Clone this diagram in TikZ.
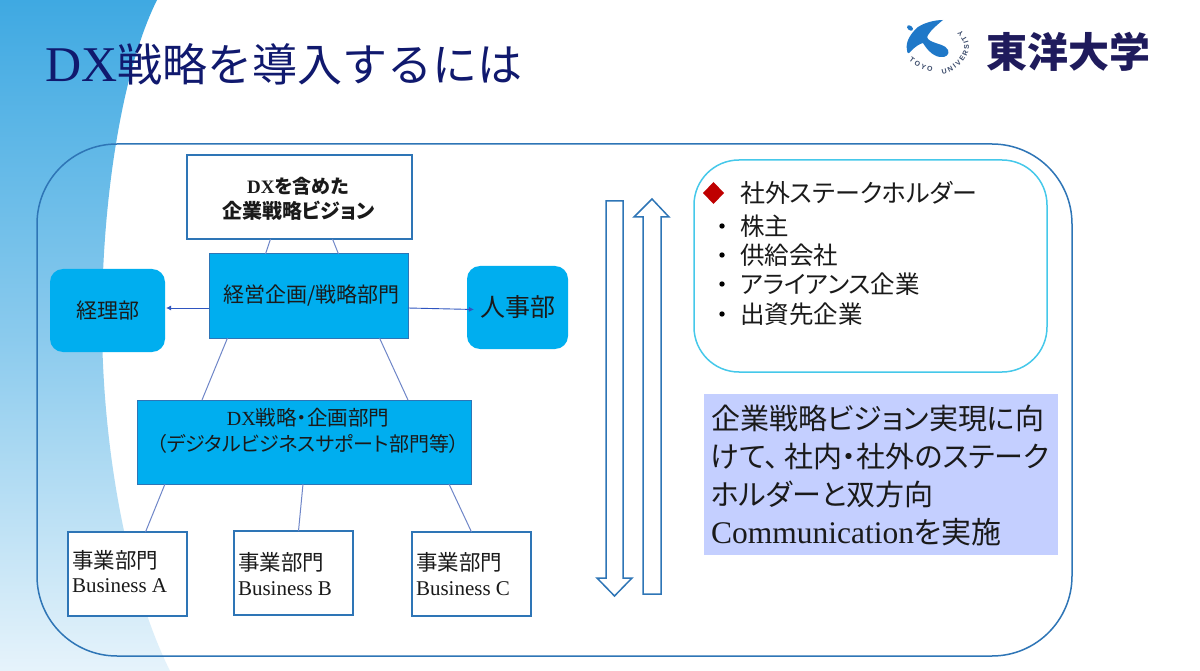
\documentclass[tikz,border=0pt]{standalone}
\usepackage{fontspec}
\setmainfont{Liberation Serif}
\newfontfamily\jp{Noto Sans CJK JP}[RawFeature=+palt]
\newfontfamily\jpfull{Noto Sans CJK JP}
\newfontfamily\logosans{Liberation Sans}
\usetikzlibrary{calc,decorations.text,arrows.meta}
\definecolor{skyfill}{HTML}{00AEEF}
\definecolor{edgeblue}{HTML}{2E75B6}
\definecolor{linkblue}{HTML}{6F86C8}
\definecolor{tipblue}{HTML}{2F55C0}
\definecolor{navy}{HTML}{10196E}
\definecolor{logonavy}{HTML}{1F1B5C}
\definecolor{logoblue}{HTML}{1F78C8}
\definecolor{logoink}{HTML}{3A4A6A}
\definecolor{bgtop}{HTML}{3FA9E2}
\definecolor{bgbot}{HTML}{E6F3FB}
\definecolor{cyanline}{HTML}{45C8EA}
\definecolor{lav}{HTML}{C4CFFF}
\definecolor{inkk}{HTML}{1A1A1A}
\tikzset{
 x=1pt,y=-1pt,
 every node/.style={inner sep=0pt,outer sep=0pt,text=inkk},
 whitebox/.style={draw=edgeblue,line width=1.4pt,fill=white,anchor=north west},
 bluebox/.style={draw=edgeblue,line width=1pt,fill=skyfill,anchor=north west},
 roundbox/.style={fill=skyfill,rounded corners=13pt,anchor=north west},
 link/.style={draw=linkblue,line width=1pt},
 linkarrow/.style={draw=tipblue,line width=0.9pt,-{Latex[length=5pt,width=5pt]}},
 hollow/.style={draw=edgeblue,line width=1.5pt,fill=white,line join=miter},
}
\newcommand{\jf}[1]{\jp\fontsize{#1}{#1}\selectfont}
\newcommand{\lf}[1]{\rmfamily\fontsize{#1}{#1}\selectfont}
\begin{document}
\begin{tikzpicture}
\useasboundingbox (0,0) rectangle (1200,671);
\fill[white] (0,0) rectangle (1200,671);
\path[top color=bgtop,bottom color=bgbot,middle color=bgtop!55!bgbot]
 (0,0) -- (157,0) .. controls (122,70) and (102,200) .. (102,320)
 .. controls (102,440) and (125,580) .. (170,671) -- (0,671) -- cycle;
% title
\node[anchor=west,text=navy] (title) at (45,64) {\lf{50}DX\jpfull\fontsize{45}{45}\selectfont 戦略を導入するには};
% logo
\fill[logoblue] (943,20) .. controls (934,20) and (924,23) .. (918,27)
 .. controls (911,33) and (905,42) .. (907,50) .. controls (907,54) and (909,54) .. (911,51)
 .. controls (915,47) and (919,44) .. (923,43) .. controls (926,48) and (932,56) .. (940,57)
 .. controls (946,58) and (950,54) .. (948,50) .. controls (946,45) and (937,44) .. (933,42)
 .. controls (928,40) and (926,38) .. (928,35) .. controls (931,30) and (938,24) .. cycle;
\fill[logoblue,rotate around={-40:(910,28)}] (910,28) ellipse (3.4pt and 2.2pt);
\path[decorate,decoration={text along path,text align=center,
 text={|\logosans\bfseries\fontsize{7}{7}\selectfont\color{logoink}|T O Y O}}]
 (908,60) .. controls (914,65) and (922,70) .. (933,72);
\path[decorate,decoration={text along path,text align=center,
 text={|\logosans\bfseries\fontsize{7}{7}\selectfont\color{logoink}|U N I V E R S I T Y}}]
 (933,74) .. controls (948,76) and (958,68) .. (964,60) .. controls (973,47) and (970,36) .. (953,25);
\node[anchor=center,text=logonavy] (univ) at (1068,52) {\jpfull\bfseries\fontsize{41}{41}\selectfont 東洋大学};
% outer frame
\draw[draw=edgeblue,line width=1.5pt,rounded corners=80pt] (37,144) rectangle (1072,656);
% nodes
\node[whitebox,minimum width=225pt,minimum height=84pt] (vision) at (187,155) {};
\node[anchor=center] at (298,186) {\lf{19}\bfseries DX\jp\bfseries\fontsize{19}{19}\selectfont を含めた};
\node[anchor=center] at (298.5,211) {\jp\bfseries\fontsize{20}{20}\selectfont 企業戦略ビジョン};
\node[bluebox,minimum width=199pt,minimum height=84pt] (strat) at (209,254) {};
\node[anchor=center] at (311.5,296) {\jf{21}経営企画/戦略部門};
\node[roundbox,minimum width=115pt,minimum height=83pt] (acct) at (50,269) {\jf{21}経理部};
\node[roundbox,minimum width=101pt,minimum height=83pt] (hr) at (467,266) {\jf{25}人事部};
\node[bluebox,minimum width=334pt,minimum height=84pt] (dx) at (137,400) {};
\node[anchor=center] at (308,418) {\lf{20}DX\jf{20.5}戦略・企画部門};
\node[anchor=center] at (308,444) {\jf{20}（デジタルビジネスサポート部門等）};
\node[whitebox,minimum width=119pt,minimum height=84pt] (ba) at (68,532) {};
\node[whitebox,minimum width=119pt,minimum height=84pt] (bb) at (234,531) {};
\node[whitebox,minimum width=119pt,minimum height=84pt] (bc) at (412,532) {};
\node[anchor=west] at (72,560) {\jf{21.5}事業部門};
\node[anchor=west] at (72,586) {\lf{21}Business A};
\node[anchor=west] at (238,562) {\jf{21.5}事業部門};
\node[anchor=west] at (238,589) {\lf{21}Business B};
\node[anchor=west] at (416,562) {\jf{21.5}事業部門};
\node[anchor=west] at (416,589) {\lf{21}Business C};
% connectors
\draw[link] ($(vision.south)+(-29,0)$) -- ($(strat.north)+(-43,0)$);
\draw[link] ($(vision.south)+(33,0)$) -- ($(strat.north)+(30,0)$);
\draw[link] ($(strat.south)+(-81,0)$) -- ($(dx.north)+(-102,0)$);
\draw[link] ($(strat.south)+(71,0)$) -- ($(dx.north)+(104,0)$);
\draw[link] ($(dx.south)+(-139,0)$) -- ($(ba.north)+(18,0)$);
\draw[link] ($(dx.south)+(-1,0)$) -- ($(bb.north)+(5,0)$);
\draw[link] ($(dx.south)+(145,0)$) -- ($(bc.north)+(0,0)$);
\draw[linkarrow] ($(strat.west)+(0,12)$) -- ($(acct.east)+(1,-2.5)$);
\draw[linkarrow] ($(strat.east)+(0,12)$) -- ($(hr.west)+(7,2)$);
% hollow arrows
\draw[hollow] (606,201) -- (623,201) -- (623,578) -- (632,578) -- (614.5,596) -- (597,578) -- (606,578) -- cycle;
\draw[hollow] (643,594) -- (661,594) -- (661,217) -- (669,217) -- (652,199) -- (634,217) -- (643,217) -- cycle;
% stakeholders
\draw[draw=cyanline,line width=1.5pt,rounded corners=45pt] (694,160) rectangle (1047,372);
\fill[red!75!black] (703,193) -- (713.5,182) -- (724,193) -- (713.5,204) -- cycle;
\node[anchor=west] (s0) at (740,193) {\jf{25}社外ステークホルダー};
\foreach \yy/\tt in {226/株主,255/供給会社,284/アライアンス企業,314/出資先企業}{
  \fill[black] (722,\yy) circle (2.7pt);
  \node[anchor=west] at (740,\yy) {\jf{24.5}\tt};
}
% message
\fill[lav] (704,394) rectangle (1058,555);
\node[anchor=west] at (711,419) {\jf{29}企業戦略ビジョン実現に向};
\node[anchor=west] at (711,456) {\jf{29}けて、\kern5pt 社内・社外のステーク};
\node[anchor=west] at (711,494) {\jf{29}ホルダーと双方向};
\node[anchor=west] at (711,532) {\lf{31.5}Communication\jf{30}を実施};
\end{tikzpicture}
\end{document}
